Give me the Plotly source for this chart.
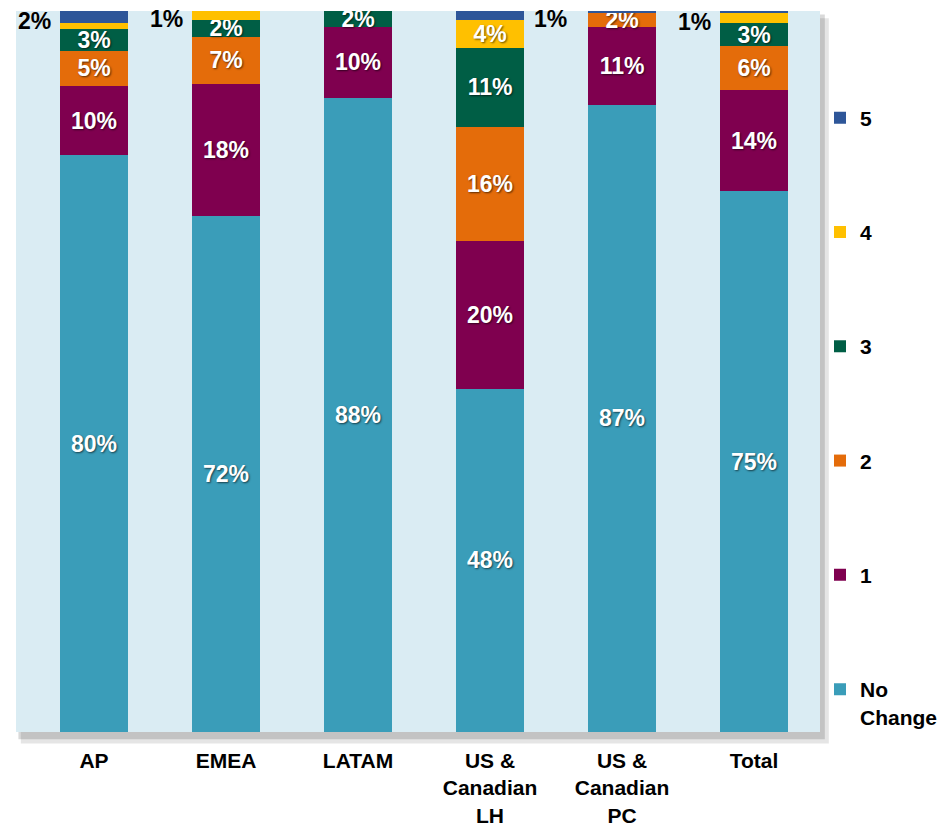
import plotly.graph_objects as go

categories = ["AP", "EMEA", "LATAM", "US &<br>Canadian<br>LH", "US &<br>Canadian<br>PC", "Total"]
series_names = ["No<br>Change", "1", "2", "3", "4", "5"]

no_change = [80, 71.6, 88, 47.6, 87, 75]
s1 = [9.6, 18.3, 9.8, 20.5, 10.8, 14]
s2 = [4.9, 6.5, 0, 15.8, 2, 6.1]
s3 = [3, 2.4, 2.2, 11, 0, 3.2]
s4 = [0.8, 1.2, 0, 3.9, 0, 1.4]
s5 = [1.7, 0, 0, 1.2, 0.2, 0.3]

lbl_nc = ["80%", "72%", "88%", "48%", "87%", "75%"]
lbl_1 = ["10%", "18%", "10%", "20%", "11%", "14%"]
lbl_2 = ["5%", "7%", "", "16%", "2%", "6%"]
lbl_3 = ["3%", "2%", "2%", "11%", "", "3%"]
lbl_4 = ["", "", "", "4%", "", ""]
lbl_5 = ["", "", "", "", "", ""]

# outside labels: (category index, series index, text, side)
outside_labels = [(0, 5, "2%", "left"), (1, 4, "1%", "left"), (3, 5, "1%", "right"), (5, 4, "1%", "left")]

colors = ["#3A9DB9", "#7F004F", "#E46C0A", "#005E45", "#FFC000", "#2E5699"]

values = [no_change, s1, s2, s3, s4, s5]
labels = [lbl_nc, lbl_1, lbl_2, lbl_3, lbl_4, lbl_5]

fig = go.Figure()
n = len(series_names)
for i, (name, vals, lbl, col) in enumerate(zip(series_names, values, labels, colors)):
    fig.add_trace(go.Bar(
        x=categories, y=vals, name=name, text=lbl,
        texttemplate="%{text}",
        textposition="inside", insidetextanchor="middle", textangle=0,
        marker=dict(color=col, line=dict(width=0)),
        textfont=dict(family="Liberation Sans, Arial", size=23, color="white",
                      weight="bold", shadow="1px 1px 2px rgba(0,0,0,0.6)"),
        legendgroup=str(i),
        legendrank=(n - i) * 100,
        hoverinfo="skip",
    ))

# annotations for outside labels
annotations = []
for ci, si, txt, side in outside_labels:
    base = sum(values[k][ci] for k in range(si))
    ymid = base + values[si][ci] / 2
    annotations.append(dict(
        x=categories[ci], y=ymid, xref="x", yref="y", text=txt, showarrow=False,
        xanchor="right" if side == "left" else "left",
        xshift=-41 if side == "left" else 42,
        yshift=-4,
        font=dict(family="Liberation Sans, Arial", size=23, color="black", weight="bold"),
    ))

shapes = [
    dict(type="rect", xref="paper", yref="paper", x0=0.006, x1=1.011, y0=-0.016, y1=0.99,
         fillcolor="rgba(0,0,0,0.10)", line=dict(width=0), layer="below"),
    dict(type="rect", xref="paper", yref="paper", x0=0.003, x1=1.006, y0=-0.010, y1=0.995,
         fillcolor="rgba(0,0,0,0.15)", line=dict(width=0), layer="below"),
    dict(type="rect", xref="paper", yref="paper", x0=0, x1=1, y0=0, y1=1,
         fillcolor="#DAECF3", line=dict(width=0), layer="below"),
]

fig.update_layout(
    width=946, height=827,
    margin=dict(l=16, r=126, t=11, b=95, autoexpand=False),
    barmode="stack", bargap=0.48,
    paper_bgcolor="white", plot_bgcolor="rgba(0,0,0,0)",
    uniformtext=dict(minsize=23, mode="show"),
    shapes=shapes, annotations=annotations,
    xaxis=dict(showgrid=False, showline=False, zeroline=False, ticks="",
               tickfont=dict(family="Liberation Sans, Arial", size=21,
                             color="black", weight="bold"),
               ticklabelstandoff=14),
    yaxis=dict(range=[0, 100], showgrid=False, showticklabels=False, zeroline=False,
               showline=False, ticks=""),
    legend=dict(x=1.0, xanchor="left", y=0.88, yanchor="top",
                traceorder="grouped", tracegroupgap=84, valign="top",
                font=dict(family="Liberation Sans, Arial", size=21, color="black", weight="bold"),
                itemwidth=30, bgcolor="rgba(0,0,0,0)"),
    showlegend=True,
)

fig.write_html("out.html")
